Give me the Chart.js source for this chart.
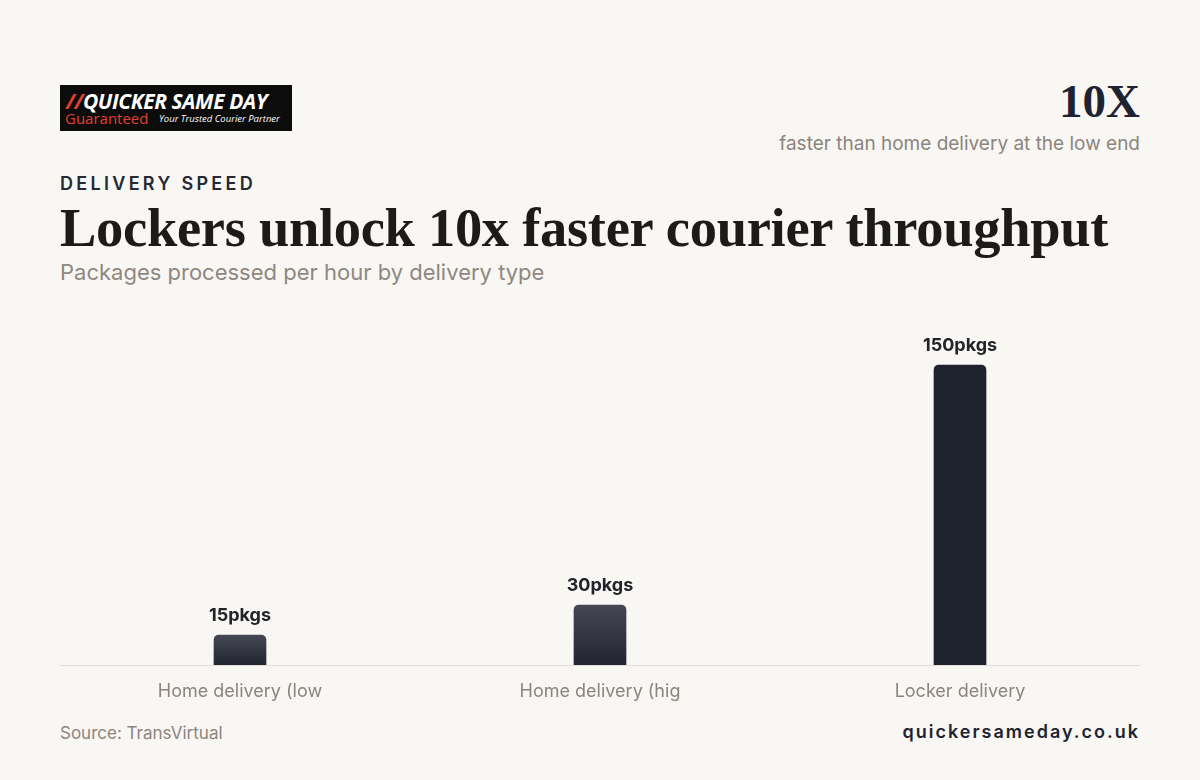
<!DOCTYPE html>
<html>
<head>
<meta charset="utf-8">
<script src="https://cdn.jsdelivr.net/npm/chart.js@4.4.1/dist/chart.umd.min.js"></script>
<style>
  body { margin: 0; background: #f8f7f4; font-family: Inter, "Noto Sans", sans-serif; }
  #page { position: relative; width: 1200px; height: 780px; overflow: hidden; }
  .abs { position: absolute; white-space: nowrap; }
  #logo { left: 60px; top: 85px; width: 232px; height: 46px; background: #0c0c0c; }
  #logo .l1 { position: absolute; left: 6px; top: 2px; font: italic bold 21px "Open Sans", sans-serif; color: #fff; letter-spacing: -0.4px; }
  #logo .l1 span { color: #e0412f; }
  #logo .l2 { position: absolute; left: 5px; top: 23px; font: 15px "Open Sans", sans-serif; color: #e0412f; }
  #logo .l3 { position: absolute; left: 99px; top: 27px; font: italic 9.5px "Open Sans", sans-serif; color: #fff; }
  #big { right: 60px; top: 74px; font: bold 47px "Liberation Serif", serif; color: #1f2330; }
  #bigsub { right: 60px; top: 132px; font-size: 19px; color: #8c847d; }
  #kicker { left: 60px; top: 173px; font-size: 18px; font-weight: 600; letter-spacing: 3.3px; color: #262833; }
  #title { left: 60px; top: 196px; font: bold 54.5px "Liberation Serif", serif; color: #1c1b19; letter-spacing: -0.3px; }
  #sub { left: 60px; top: 259px; font-size: 22px; color: #8f8780; }
  #chartBox { left: 60px; top: 300px; width: 1080px; height: 410px; }
  #source { left: 60px; top: 723px; font-size: 17px; color: #8c847d; }
  #site { right: 60px; top: 721px; font-size: 18px; font-weight: 600; letter-spacing: 2px; color: #1f2330; }
</style>
</head>
<body>
<div id="page">
  <div id="logo" class="abs">
    <div class="l1"><span>//</span>QUICKER SAME DAY</div>
    <div class="l2">Guaranteed</div>
    <div class="l3">Your Trusted Courier Partner</div>
  </div>
  <div id="big" class="abs">10X</div>
  <div id="bigsub" class="abs">faster than home delivery at the low end</div>
  <div id="kicker" class="abs">DELIVERY SPEED</div>
  <div id="title" class="abs">Lockers unlock 10x faster courier throughput</div>
  <div id="sub" class="abs">Packages processed per hour by delivery type</div>
  <div id="chartBox" class="abs"><canvas id="chart" width="1080" height="410"></canvas></div>
  <div id="source" class="abs">Source: TransVirtual</div>
  <div id="site" class="abs">quickersameday.co.uk</div>
</div>
<script>
let categories = ["Home delivery (low", "Home delivery (hig", "Locker delivery"];
let packagesPerHour = [15, 30, 150];
let valueSuffix = "pkgs";

function barFill(context) {
    let chart = context.chart;
    let area = chart.chartArea;
    if (context.dataIndex === 2) return "#1f2330";
    if (!area || !chart.scales.y) return "#2e3039";
    let top = chart.scales.y.getPixelForValue(packagesPerHour[context.dataIndex]);
    if (!isFinite(top) || !isFinite(area.bottom)) return "#2e3039";
    let g = chart.ctx.createLinearGradient(0, top, 0, area.bottom);
    g.addColorStop(0, "#454753");
    g.addColorStop(1, "#22252f");
    return g;
}

const valueLabels = {
    id: "valueLabels",
    afterDatasetsDraw(chart) {
        let ctx = chart.ctx;
        let meta = chart.getDatasetMeta(0);
        ctx.save();
        ctx.font = "bold 18px Inter, sans-serif";
        ctx.fillStyle = "#23232a";
        ctx.textAlign = "center";
        ctx.textBaseline = "alphabetic";
        meta.data.forEach((bar, i) => {
            ctx.fillText(packagesPerHour[i] + valueSuffix, bar.x, bar.y - 14);
        });
        ctx.restore();
    }
};

const ctx = document.getElementById("chart").getContext("2d");
new Chart(ctx, {
    type: "bar",
    data: {
        labels: categories,
        datasets: [{
            data: packagesPerHour,
            backgroundColor: barFill,
            borderRadius: { topLeft: 5, topRight: 5 },
            borderSkipped: "bottom",
            barThickness: 52
        }]
    },
    options: {
        responsive: false,
        animation: false,
        layout: { padding: { top: 35, left: 0, right: 0, bottom: 0 } },
        plugins: { legend: { display: false }, tooltip: { enabled: false } },
        scales: {
            x: {
                grid: { display: false },
                border: { display: true, color: "#e3e0db", width: 1 },
                ticks: { color: "#8c847d", font: { family: "Inter", size: 18 }, padding: 8 },
                afterFit(scale) { scale.height = 45; }
            },
            y: {
                display: false,
                min: 0,
                max: 165
            }
        }
    },
    plugins: [valueLabels]
});
</script>
</body>
</html>
